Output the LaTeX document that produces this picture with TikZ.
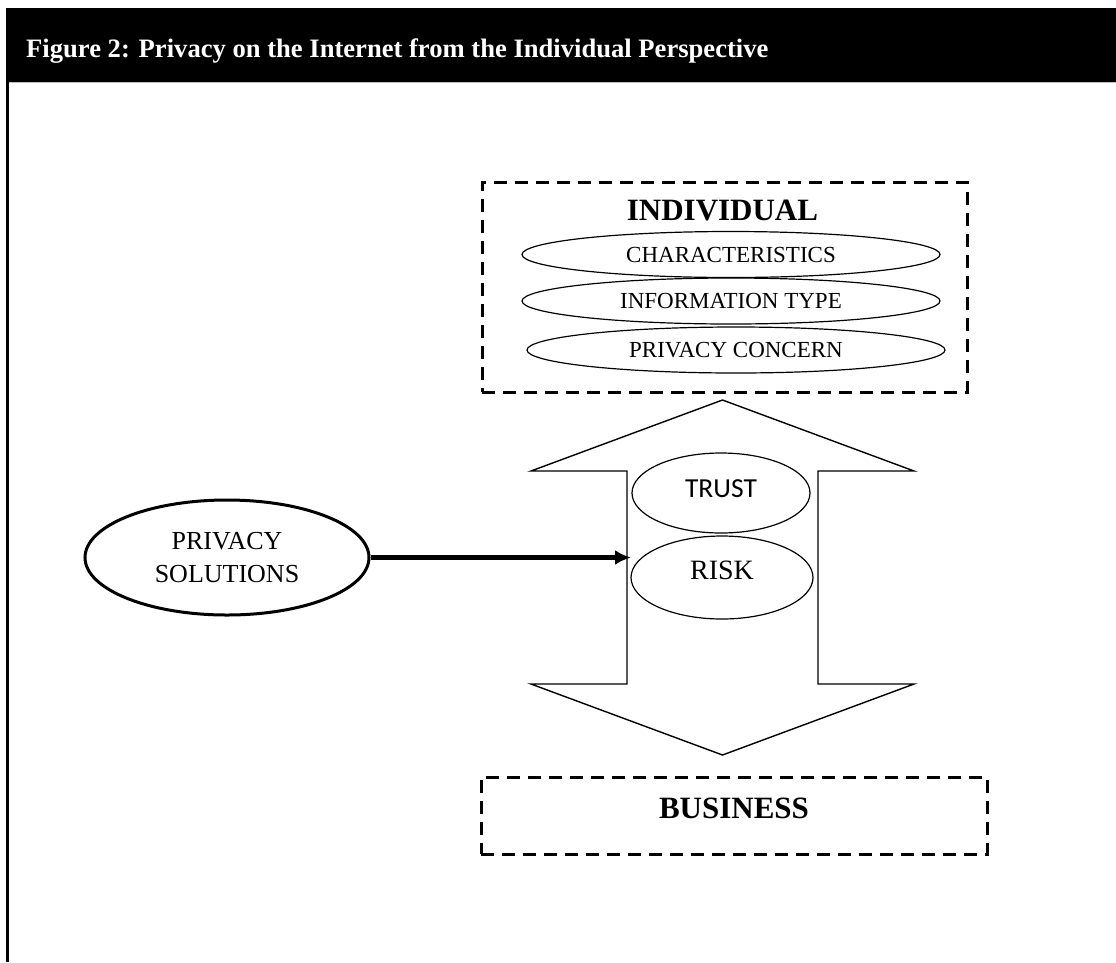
\documentclass[tikz,border=0pt]{standalone}
\usepackage{fontspec}
\setmainfont{Liberation Serif}
\newfontfamily\calib{Carlito}
\usetikzlibrary{shapes.geometric,arrows.meta}

\tikzset{
  dashbox/.style={draw, line width=3pt, dash pattern=on 13pt off 8pt,
    rectangle, inner sep=0pt},
  item/.style={draw, ellipse, line width=1.2pt, inner sep=0pt,
    minimum width=418pt, minimum height=46pt,
    font=\fontsize{23}{27}\selectfont},
  flow/.style={draw, ellipse, line width=1.2pt, inner sep=0pt},
  heading/.style={font=\fontsize{31}{36}\selectfont\bfseries, inner sep=0pt},
  bigarrow/.style={draw, line width=1.4pt, fill=white, line join=miter},
  push/.style={line width=4.5pt, -{Latex[length=16pt,width=15pt]}}
}

\begin{document}
\begin{tikzpicture}[x=1pt,y=-1pt]
\useasboundingbox (0,0) rectangle (1116,962);

% title bar and frame
\fill[black] (6,8) rectangle (1116,82);
\draw[black!25, line width=1pt] (8,82.5) -- (1116,82.5);
\draw[line width=3pt] (7,8) -- (7,962);
\node[anchor=base west, inner sep=0pt, text=white,
      font=\fontsize{26.6}{30}\selectfont\bfseries] (title) at (26,57)
  {Figure 2: Privacy on the Internet from the Individual Perspective};

% individual block
\node[dashbox, minimum width=485pt, minimum height=210pt] (indbox) at (724.5,287) {};
\node[heading, anchor=base] (indiv) at (722.5,220) {INDIVIDUAL};
\node[item] (charac) at (731,254.5) {CHARACTERISTICS};
\node[item] (infotype) at (731,301) {INFORMATION TYPE};
\node[item] (concern) at (736,350) {PRIVACY CONCERN};

% two-way arrow between individual and business
\draw[bigarrow] (722.5,400) -- (914,471) -- (818,471) -- (818,684) -- (914,684)
  -- (722.5,755) -- (531,684) -- (627,684) -- (627,471) -- (531,471) -- cycle;

\node[flow, minimum width=178pt, minimum height=80pt,
      font=\calib\fontsize{27.5}{32}\selectfont,
      text height=18pt, text depth=10pt] (trust) at (721,493) {TRUST};
\node[flow, minimum width=182pt, minimum height=83pt,
      font=\fontsize{28}{32}\selectfont,
      text height=19pt, text depth=16pt] (risk) at (722,577.5) {RISK};

% privacy solutions acting on the risk
\node[draw, ellipse, line width=3pt, inner sep=0pt,
      minimum width=284pt, minimum height=115pt, align=center,
      font=\fontsize{26}{33}\selectfont] (solutions) at (227,557.5)
  {PRIVACY\\SOLUTIONS};
\coordinate (risktip) at (631,557.5);
\draw[push] (solutions) -- (risktip);

% business block
\node[dashbox, minimum width=506pt, minimum height=77pt] (busbox) at (734,815.5) {};
\node[heading, anchor=base] (business) at (734,818) {BUSINESS};
\end{tikzpicture}
\end{document}
